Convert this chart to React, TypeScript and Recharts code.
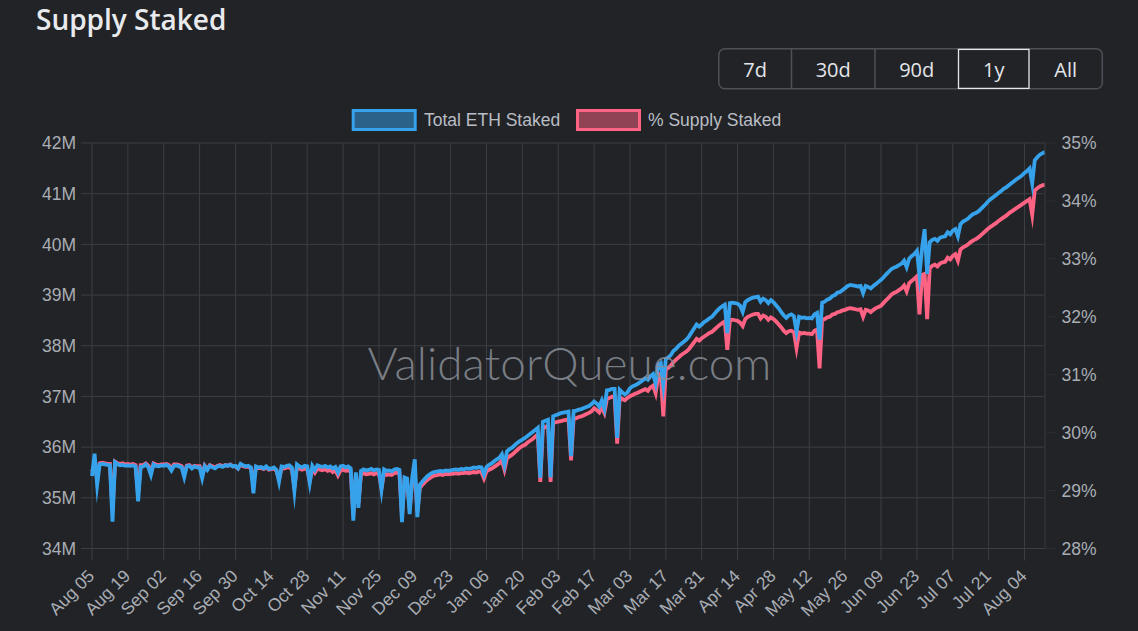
import { LineChart, Line, XAxis, YAxis, CartesianGrid } from "recharts";

// x ticks, one every 14 days starting at Aug 05
const dateLabels = [
  "Aug 05", "Aug 19", "Sep 02", "Sep 16", "Sep 30", "Oct 14", "Oct 28", "Nov 11", "Nov 25",
  "Dec 09", "Dec 23", "Jan 06", "Jan 20", "Feb 03", "Feb 17", "Mar 03", "Mar 17", "Mar 31",
  "Apr 14", "Apr 28", "May 12", "May 26", "Jun 09", "Jun 23", "Jul 07", "Jul 21", "Aug 04",
];
const leftTicks = [34, 35, 36, 37, 38, 39, 40, 41, 42];
const rightTicks = [28, 29, 30, 31, 32, 33, 34, 35];
const ranges = ["7d", "30d", "90d", "1y", "All"];

// daily, Aug 05 -> Aug 12, millions of ETH
const totalStaked = [
  35.43, 35.87, 35.25, 35.66, 35.67, 35.66, 35.65, 35.64, 34.53, 35.70, 35.66, 35.64, 35.65, 35.63,
  35.64, 35.63, 35.64, 35.62, 34.93, 35.61, 35.62, 35.66, 35.60, 35.45, 35.66, 35.63, 35.62, 35.64,
  35.63, 35.65, 35.62, 35.54, 35.63, 35.64, 35.62, 35.60, 35.41, 35.62, 35.63, 35.58, 35.62, 35.60,
  35.60, 35.39, 35.62, 35.55, 35.63, 35.60, 35.58, 35.62, 35.63, 35.61, 35.64, 35.63, 35.65, 35.62,
  35.63, 35.58, 35.67, 35.64, 35.62, 35.63, 35.60, 35.09, 35.62, 35.60, 35.61, 35.58, 35.62, 35.57,
  35.58, 35.60, 35.55, 35.32, 35.62, 35.61, 35.63, 35.64, 35.60, 35.13, 35.66, 35.62, 35.60, 35.63,
  35.62, 35.30, 35.63, 35.55, 35.64, 35.62, 35.61, 35.63, 35.60, 35.62, 35.58, 35.61, 35.50, 35.62,
  35.63, 35.60, 35.62, 35.58, 34.55, 35.50, 34.80, 35.53, 35.56, 35.54, 35.55, 35.57, 35.54, 35.56,
  35.55, 35.16, 35.56, 35.53, 35.54, 35.52, 35.56, 35.57, 35.55, 34.52, 35.40, 35.38, 34.68, 35.40,
  35.76, 34.62, 35.26, 35.32, 35.38, 35.43, 35.47, 35.50, 35.51, 35.52, 35.53, 35.52, 35.54, 35.53,
  35.54, 35.55, 35.56, 35.55, 35.57, 35.56, 35.58, 35.57, 35.58, 35.60, 35.59, 35.61, 35.60, 35.46,
  35.61, 35.65, 35.68, 35.72, 35.76, 35.79, 35.86, 35.65, 35.92, 35.96, 35.99, 36.04, 36.08, 36.12,
  36.15, 36.18, 36.22, 36.26, 36.30, 36.34, 36.38, 35.40, 36.50, 36.52, 36.54, 35.40, 36.61, 36.63,
  36.65, 36.67, 36.68, 36.69, 36.70, 35.82, 36.71, 36.72, 36.74, 36.75, 36.77, 36.79, 36.81, 36.85,
  36.90, 36.86, 36.80, 36.92, 36.76, 37.12, 37.13, 37.15, 37.15, 36.18, 37.13, 37.08, 37.04, 37.08,
  37.16, 37.20, 37.22, 37.25, 37.28, 37.32, 37.36, 37.33, 37.40, 37.44, 37.26, 37.62, 37.66, 37.23,
  37.74, 37.77, 37.82, 37.90, 37.94, 38.00, 38.04, 38.08, 38.12, 38.18, 38.26, 38.34, 38.42, 38.38,
  38.42, 38.47, 38.50, 38.54, 38.57, 38.63, 38.69, 38.74, 38.78, 38.81, 38.25, 38.84, 38.85, 38.84,
  38.83, 38.79, 38.67, 38.86, 38.90, 38.93, 38.95, 38.96, 38.97, 38.87, 38.93, 38.90, 38.84, 38.90,
  38.86, 38.80, 38.74, 38.67, 38.60, 38.55, 38.60, 38.62, 38.58, 38.28, 38.57, 38.55, 38.56, 38.54,
  38.55, 38.54, 38.62, 38.65, 38.12, 38.85, 38.87, 38.91, 38.93, 38.98, 39.00, 39.05, 39.06, 39.10,
  39.14, 39.18, 39.20, 39.19, 39.18, 39.17, 39.18, 39.04, 39.18, 39.16, 39.13, 39.18, 39.22, 39.26,
  39.30, 39.35, 39.41, 39.46, 39.51, 39.54, 39.56, 39.59, 39.62, 39.68, 39.55, 39.72, 39.77, 39.81,
  39.87, 39.40, 39.92, 40.30, 39.42, 40.04, 40.09, 40.11, 40.07, 40.13, 40.15, 40.16, 40.24, 40.20,
  40.27, 40.30, 40.16, 40.40, 40.45, 40.48, 40.51, 40.56, 40.60, 40.62, 40.65, 40.70, 40.75, 40.80,
  40.86, 40.90, 40.94, 40.98, 41.02, 41.06, 41.10, 41.13, 41.17, 41.21, 41.25, 41.29, 41.32, 41.36,
  41.41, 41.45, 41.50, 41.20, 41.66, 41.72, 41.77, 41.80, 41.82,
];

// daily, % of supply
const pctStaked = [
  29.33, 29.45, 29.22, 29.47, 29.48, 29.47, 29.46, 29.46, 28.65, 29.50, 29.47, 29.46, 29.47, 29.45,
  29.46, 29.45, 29.46, 29.44, 28.95, 29.44, 29.44, 29.47, 29.43, 29.32, 29.47, 29.45, 29.44, 29.45,
  29.45, 29.46, 29.44, 29.38, 29.45, 29.45, 29.44, 29.42, 29.28, 29.43, 29.44, 29.40, 29.43, 29.42,
  29.42, 29.26, 29.43, 29.37, 29.44, 29.42, 29.40, 29.43, 29.44, 29.42, 29.44, 29.43, 29.45, 29.42,
  29.42, 29.38, 29.45, 29.42, 29.41, 29.41, 29.39, 29.15, 29.40, 29.39, 29.39, 29.37, 29.40, 29.36,
  29.37, 29.38, 29.34, 29.19, 29.39, 29.38, 29.40, 29.40, 29.37, 29.06, 29.41, 29.38, 29.36, 29.38,
  29.37, 29.16, 29.38, 29.31, 29.38, 29.36, 29.35, 29.37, 29.34, 29.36, 29.32, 29.35, 29.26, 29.35,
  29.36, 29.34, 29.35, 29.32, 28.58, 29.25, 28.78, 29.28, 29.30, 29.28, 29.29, 29.30, 29.28, 29.30,
  29.29, 29.04, 29.30, 29.27, 29.28, 29.27, 29.30, 29.31, 29.29, 28.56, 29.17, 29.15, 28.67, 29.16,
  29.30, 28.64, 29.05, 29.10, 29.15, 29.19, 29.22, 29.25, 29.26, 29.27, 29.28, 29.27, 29.29, 29.28,
  29.29, 29.29, 29.30, 29.29, 29.30, 29.30, 29.31, 29.30, 29.31, 29.32, 29.31, 29.33, 29.32, 29.21,
  29.33, 29.36, 29.38, 29.41, 29.44, 29.47, 29.52, 29.36, 29.56, 29.59, 29.62, 29.66, 29.70, 29.74,
  29.77, 29.79, 29.83, 29.86, 29.89, 29.93, 29.97, 29.15, 30.07, 30.10, 30.12, 29.15, 30.16, 30.18,
  30.19, 30.20, 30.21, 30.22, 30.23, 29.52, 30.24, 30.25, 30.27, 30.28, 30.30, 30.32, 30.34, 30.37,
  30.42, 30.39, 30.35, 30.44, 30.34, 30.58, 30.60, 30.62, 30.62, 29.81, 30.61, 30.58, 30.56, 30.60,
  30.63, 30.65, 30.67, 30.69, 30.71, 30.73, 30.75, 30.72, 30.78, 30.81, 30.68, 30.98, 31.02, 30.28,
  31.09, 31.12, 31.16, 31.22, 31.26, 31.30, 31.34, 31.37, 31.40, 31.44, 31.50, 31.56, 31.62, 31.59,
  31.63, 31.66, 31.69, 31.72, 31.74, 31.78, 31.82, 31.86, 31.89, 31.92, 31.43, 31.94, 31.95, 31.94,
  31.93, 31.90, 31.84, 31.96, 32.00, 32.02, 32.04, 32.05, 32.05, 31.97, 32.02, 32.00, 31.95, 31.99,
  31.96, 31.92, 31.87, 31.82, 31.76, 31.72, 31.75, 31.76, 31.73, 31.46, 31.73, 31.71, 31.72, 31.71,
  31.71, 31.70, 31.76, 31.78, 31.11, 31.94, 31.96, 31.99, 32.00, 32.04, 32.05, 32.08, 32.09, 32.11,
  32.12, 32.14, 32.15, 32.14, 32.13, 32.12, 32.13, 32.00, 32.12, 32.11, 32.08, 32.12, 32.15, 32.17,
  32.19, 32.24, 32.29, 32.33, 32.38, 32.41, 32.43, 32.46, 32.49, 32.54, 32.44, 32.58, 32.62, 32.66,
  32.70, 32.04, 32.72, 32.74, 31.96, 32.84, 32.88, 32.90, 32.87, 32.92, 32.94, 32.95, 33.02, 32.99,
  33.05, 33.08, 32.97, 33.16, 33.20, 33.22, 33.25, 33.29, 33.32, 33.34, 33.37, 33.41, 33.45, 33.49,
  33.53, 33.56, 33.59, 33.62, 33.66, 33.69, 33.72, 33.75, 33.79, 33.82, 33.85, 33.88, 33.91, 33.94,
  33.97, 34.00, 34.03, 33.76, 34.18, 34.22, 34.25, 34.27, 34.28,
];

const rows = totalStaked.map((total, i) => ({ day: i, total, pct: pctStaked[i] }));
const xTicks = dateLabels.map((_, k) => k * 14);

const BG = "#212327";
const GRID = "#3b3e43";
const AXIS_TEXT = "#a9adb4";
const BLUE = "#36a2eb";
const PINK = "#ff6384";
const SANS = "'Liberation Sans', Arial, Helvetica, sans-serif";

function DateTick({ x, y, payload }: any) {
  const ax = x + 3.5;
  const ay = y + 14.5;
  return (
    <text
      x={ax}
      y={ay}
      transform={`rotate(-45 ${ax} ${ay})`}
      textAnchor="end"
      fill={AXIS_TEXT}
      fontSize={17.5}
      fontFamily={SANS}
    >
      {dateLabels[Math.round(payload.value / 14)]}
    </text>
  );
}

function Overlay() {
  const btnX = [718.8, 791.5, 875, 958.5, 1029, 1102.3];
  return (
    <svg
      width={1138}
      height={631}
      style={{ position: "absolute", left: 0, top: 0, pointerEvents: "none" }}
    >
      <text x={36} y={30} fill="#e8eaed" fontSize={28} fontWeight={600} fontFamily="'Open Sans', sans-serif">
        Supply Staked
      </text>

      <rect x={718.8} y={48.8} width={383.5} height={40} rx={6} fill="none" stroke="#4d5157" strokeWidth={1.5} />
      {[1, 2].map((k) => (
        <line key={k} x1={btnX[k]} x2={btnX[k]} y1={49} y2={88.6} stroke="#4d5157" strokeWidth={1.5} />
      ))}
      <rect x={958.5} y={49.4} width={70.5} height={39} fill="none" stroke="#e6e6e6" strokeWidth={1.3} />
      {ranges.map((r, k) => (
        <text
          key={r}
          x={(btnX[k] + btnX[k + 1]) / 2}
          y={76.5}
          textAnchor="middle"
          fill="#e3e6ea"
          fontSize={20}
          fontFamily="'Open Sans', sans-serif"
        >
          {r}
        </text>
      ))}

      <rect x={353.2} y={110.5} width={62} height={19} fill="rgba(54,162,235,0.5)" stroke={BLUE} strokeWidth={3} />
      <text x={424} y={125.5} fill="#b9bdc4" fontSize={17.5} fontFamily={SANS}>
        Total ETH Staked
      </text>
      <rect x={577.5} y={110.5} width={62} height={19} fill="rgba(255,99,132,0.5)" stroke={PINK} strokeWidth={3} />
      <text x={648} y={125.5} fill="#b9bdc4" fontSize={17.5} fontFamily={SANS}>
        % Supply Staked
      </text>

      <text
        x={569.5}
        y={380}
        textAnchor="middle"
        fill="#8a8e96"
        fillOpacity={0.85}
        fontSize={46}
        fontWeight={300}
        fontFamily="Lato, sans-serif"
      >
        ValidatorQueue.com
      </text>
    </svg>
  );
}

export default function App() {
  return (
    <div style={{ position: "absolute", left: 0, top: 0, width: 1138, height: 631, background: BG, overflow: "hidden" }}>
      <LineChart width={1138} height={631} data={rows} margin={{ top: 143, right: 0, bottom: 0, left: 0 }}>
        <CartesianGrid yAxisId="left" stroke={GRID} strokeWidth={1} />
        <XAxis
          dataKey="day"
          type="number"
          domain={[0, 372]}
          ticks={xTicks}
          interval={0}
          height={82.5}
          tickSize={12}
          tickMargin={2}
          axisLine={false}
          tickLine={{ stroke: GRID }}
          tick={<DateTick />}
        />
        <YAxis
          yAxisId="left"
          orientation="left"
          width={92}
          domain={[34, 42]}
          ticks={leftTicks}
          interval={0}
          tickFormatter={(v) => `${v}M`}
          tickSize={11}
          tickMargin={5}
          axisLine={false}
          tickLine={{ stroke: GRID }}
          tick={{ fill: AXIS_TEXT, fontSize: 17.5, fontFamily: SANS }}
        />
        <YAxis
          yAxisId="right"
          orientation="right"
          width={93}
          domain={[28, 35]}
          ticks={rightTicks}
          interval={0}
          tickFormatter={(v) => `${v}%`}
          tickSize={11}
          tickMargin={5.5}
          axisLine={{ stroke: "#2b2e33" }}
          tickLine={{ stroke: "#2b2e33" }}
          tick={{ fill: AXIS_TEXT, fontSize: 17.5, fontFamily: SANS }}
        />
        <Line
          yAxisId="right"
          type="linear"
          dataKey="pct"
          stroke={PINK}
          strokeWidth={3.8}
          strokeMiterlimit={10}
          dot={false}
          activeDot={false}
          isAnimationActive={false}
        />
        <Line
          yAxisId="left"
          type="linear"
          dataKey="total"
          stroke={BLUE}
          strokeWidth={3.8}
          strokeMiterlimit={10}
          dot={false}
          activeDot={false}
          isAnimationActive={false}
        />
      </LineChart>
      <Overlay />
    </div>
  );
}
